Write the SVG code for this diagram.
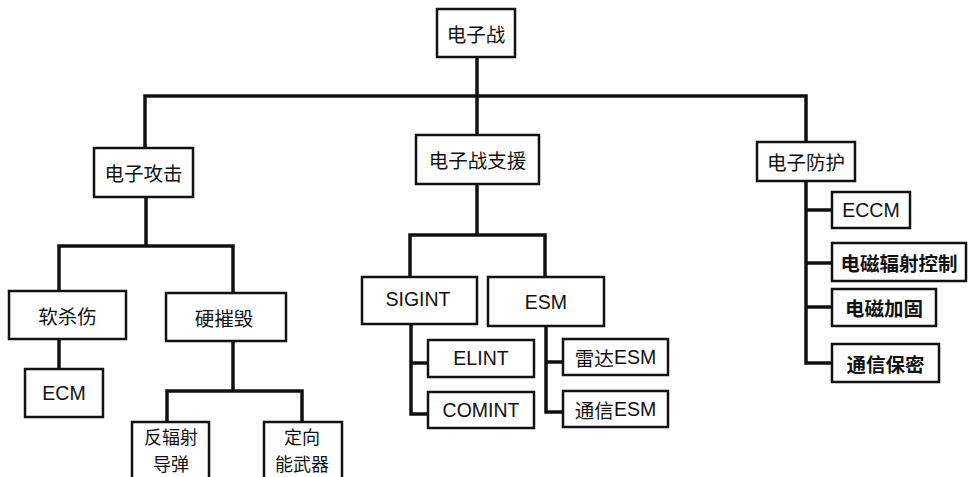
<svg xmlns="http://www.w3.org/2000/svg" width="968" height="477" viewBox="0 0 968 477">
<style>
  .box { fill: #ffffff; stroke: #111111; stroke-width: 2.5; }
  .conn { fill: none; stroke: #111111; stroke-width: 3.5; stroke-linejoin: miter; stroke-linecap: square; }
  .zh { font-family: "Noto Sans CJK SC", "Liberation Sans", sans-serif; font-size: 19.5px; fill: #111111; text-anchor: middle; dominant-baseline: central; }
  .zhs { font-size: 18px; }
  .zhb { font-weight: bold; }
  .en { font-family: "Liberation Sans", "Noto Sans CJK SC", sans-serif; font-size: 19.5px; fill: #111111; text-anchor: middle; dominant-baseline: central; }
</style>
<rect x="0" y="0" width="968" height="477" fill="#ffffff"/>
<g id="connectors">
  <path class="conn" d="M477,57 V96 M145,148 V96 H806 V142 M477,96 V135"/>
  <path class="conn" d="M146,197 V246 M59,291 V246 H233 V293"/>
  <path class="conn" d="M59,339 V369"/>
  <path class="conn" d="M233,341 V391 M167,422 V391 H302 V422"/>
  <path class="conn" d="M477,184 V235 M410,277 V235 H545 V277"/>
  <path class="conn" d="M411,324 V414 H428 M411,363 H428"/>
  <path class="conn" d="M546,326 V412 H563 M546,362 H563"/>
  <path class="conn" d="M806,181 V363 H832 M806,210 H832 M806,263 H832 M806,307 H832"/>
</g>
<g id="n-root"><rect class="box" x="437" y="9" width="78" height="48"/><text class="zh" x="476" y="33">电子战</text></g>
<g id="n-ea"><rect class="box" x="94" y="148" width="99" height="49"/><text class="zh" x="143.5" y="172.5">电子攻击</text></g>
<g id="n-soft"><rect class="box" x="9" y="291" width="117" height="48"/><text class="zh" x="67.5" y="315">软杀伤</text></g>
<g id="n-ecm"><rect class="box" x="25" y="369" width="78" height="48"/><text class="en" x="64" y="393">ECM</text></g>
<g id="n-hard"><rect class="box" x="166" y="293" width="120" height="48"/><text class="zh" x="224" y="317">硬摧毁</text></g>
<g id="n-arm"><rect class="box" x="132" y="422" width="77" height="62"/><text class="zh zhs" x="171" y="436">反辐射</text><text class="zh zhs" x="171" y="463">导弹</text></g>
<g id="n-dew"><rect class="box" x="264" y="422" width="78" height="62"/><text class="zh zhs" x="302" y="436">定向</text><text class="zh zhs" x="302" y="463">能武器</text></g>
<g id="n-es"><rect class="box" x="416" y="135" width="123" height="49"/><text class="zh" x="477.5" y="159.5">电子战支援</text></g>
<g id="n-sigint"><rect class="box" x="362" y="277" width="115" height="47"/><text class="en" x="418" y="299">SIGINT</text></g>
<g id="n-esm"><rect class="box" x="488" y="277" width="116" height="49"/><text class="en" x="546" y="302">ESM</text></g>
<g id="n-elint"><rect class="box" x="428" y="340" width="106" height="37"/><text class="en" x="481" y="358">ELINT</text></g>
<g id="n-comint"><rect class="box" x="428" y="392" width="106" height="36"/><text class="en" x="481" y="410">COMINT</text></g>
<g id="n-resm"><rect class="box" x="563" y="339" width="105" height="36"/><text class="zh" x="615.5" y="357">雷达<tspan font-family="Liberation Sans">ESM</tspan></text></g>
<g id="n-cesm"><rect class="box" x="563" y="391" width="105" height="36"/><text class="zh" x="615.5" y="409">通信<tspan font-family="Liberation Sans">ESM</tspan></text></g>
<g id="n-ep"><rect class="box" x="757" y="142" width="98" height="39"/><text class="zh" x="806" y="161.5">电子防护</text></g>
<g id="n-eccm"><rect class="box" x="832" y="192" width="78" height="36"/><text class="en" x="871" y="210">ECCM</text></g>
<g id="n-emcon"><rect class="box" x="832" y="243" width="134" height="38"/><text class="zh zhb" x="899" y="262">电磁辐射控制</text></g>
<g id="n-hardening"><rect class="box" x="832" y="289" width="104" height="37"/><text class="zh zhb" x="884" y="307.5">电磁加固</text></g>
<g id="n-comsec"><rect class="box" x="832" y="344" width="107" height="38"/><text class="zh zhb" x="885.5" y="363">通信保密</text></g>
</svg>
